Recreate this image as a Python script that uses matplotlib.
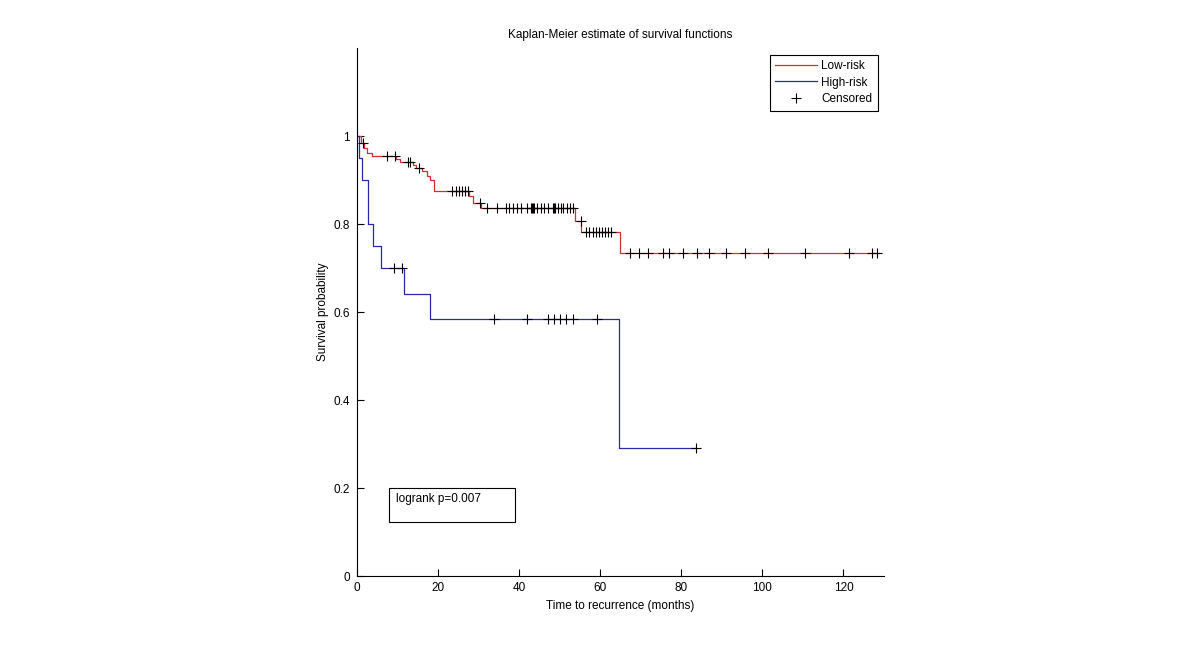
import numpy as np
import matplotlib
matplotlib.use("Agg")
import matplotlib.pyplot as plt
from matplotlib.ticker import FormatStrFormatter
from matplotlib.lines import Line2D
from matplotlib.patches import Rectangle

plt.rcParams['font.family'] = ['Liberation Sans', 'DejaVu Sans']

# low-risk group: step times and survival levels
low_t = [0, 1.0, 1.8, 2.5, 3.7, 9.6, 10.5, 13.8, 14.5, 16.1, 17.2, 18.0, 18.9,
         27.7, 28.5, 30.5, 53.8, 55.3, 64.8]
low_s = [1.0, 0.985, 0.972, 0.962, 0.955, 0.947, 0.940, 0.934, 0.928, 0.920,
         0.910, 0.900, 0.876, 0.864, 0.848, 0.836, 0.807, 0.782, 0.733]
low_end = 128.7
low_cens = [1.6, 7.3, 9.3, 12.5, 13.0, 15.2, 23.5, 24.4, 25.2, 26.0, 26.7, 27.3,
            30.3, 32.0, 34.5, 36.8, 37.6, 38.4, 39.4, 40.5, 42.0, 42.9, 43.2,
            43.5, 43.7, 44.5, 45.4, 46.2, 47.0, 48.4, 48.6, 48.9, 49.5, 50.2,
            50.9, 51.8, 52.6, 53.4, 55.2, 56.5, 57.3, 58.2, 59.0, 59.8, 60.5,
            61.2, 61.9, 62.6, 67.4, 69.5, 71.9, 75.4, 76.9, 80.4, 83.9, 86.8,
            91.1, 95.7, 101.3, 110.4, 121.3, 127.1, 128.3]

# high-risk group
high_t = [0, 0.5, 1.2, 2.7, 4.0, 5.8, 11.7, 18.0, 64.6]
high_s = [1.0, 0.95, 0.90, 0.80, 0.75, 0.70, 0.642, 0.583, 0.292]
high_end = 83.5
high_cens = [9.2, 11.2, 33.7, 42.0, 47.0, 48.5, 50.0, 51.5, 53.2, 59.3, 83.5]


def level_at(times, surv, x):
    # survival value of the step function at each x
    idx = np.searchsorted(times, x, side="right") - 1
    return np.array(surv)[idx]


fig = plt.figure(figsize=(12, 6.47), dpi=100)
ax = fig.add_axes([0.2975, 0.1097, 0.4392, 0.8161])

red = "#d03030"
blue = "#2828a8"

ax.step(low_t + [low_end], low_s + [low_s[-1]], where="post", color=red, lw=0.9)
ax.step(high_t + [high_end], high_s + [high_s[-1]], where="post", color=blue, lw=0.9)

ax.plot(low_cens, level_at(low_t, low_s, low_cens), "k+", ms=7, mew=0.8)
ax.plot(high_cens, level_at(high_t, high_s, high_cens), "k+", ms=7, mew=0.8)

ax.set_xlim(0, 130)
ax.set_ylim(0, 1.2)
ax.set_xticks([0, 20, 40, 60, 80, 100, 120])
ax.set_yticks([0, 0.2, 0.4, 0.6, 0.8, 1])
ax.yaxis.set_major_formatter(FormatStrFormatter("%g"))
ax.tick_params(direction="in", length=5, width=0.8, labelsize=8.5)
ax.tick_params(axis="x", pad=4)
ax.tick_params(axis="y", pad=5)
for side in ["top", "right"]:
    ax.spines[side].set_visible(False)
for side in ["left", "bottom"]:
    ax.spines[side].set_linewidth(0.8)

ax.set_title("Kaplan-Meier estimate of survival functions", fontsize=8.5, pad=7.5)
ax.set_xlabel("Time to recurrence (months)", fontsize=8.5, labelpad=4.5)
ax.set_ylabel("Survival probability", fontsize=8.5, labelpad=3)

handles = [Line2D([], [], color=red, lw=0.9),
           Line2D([], [], color=blue, lw=0.9),
           Line2D([], [], color="k", marker="+", ls="none", ms=7, mew=0.8)]
leg = ax.legend(handles, ["Low-risk", "High-risk", "Censored"], loc="upper right",
                fontsize=8.5, fancybox=False, edgecolor="k", framealpha=1,
                handlelength=3.5, handletextpad=0.4, labelspacing=0.4,
                borderpad=0.45, borderaxespad=0.55)
leg.get_frame().set_linewidth(0.8)

# logrank box
ax.add_patch(Rectangle((7.9, 0.123), 31, 0.077, fill=False, ec="k", lw=0.8))
ax.text(9.6, 0.175, "logrank p=0.007", fontsize=8.5, va="center", ha="left")

fig.savefig("out.png", dpi=100)
